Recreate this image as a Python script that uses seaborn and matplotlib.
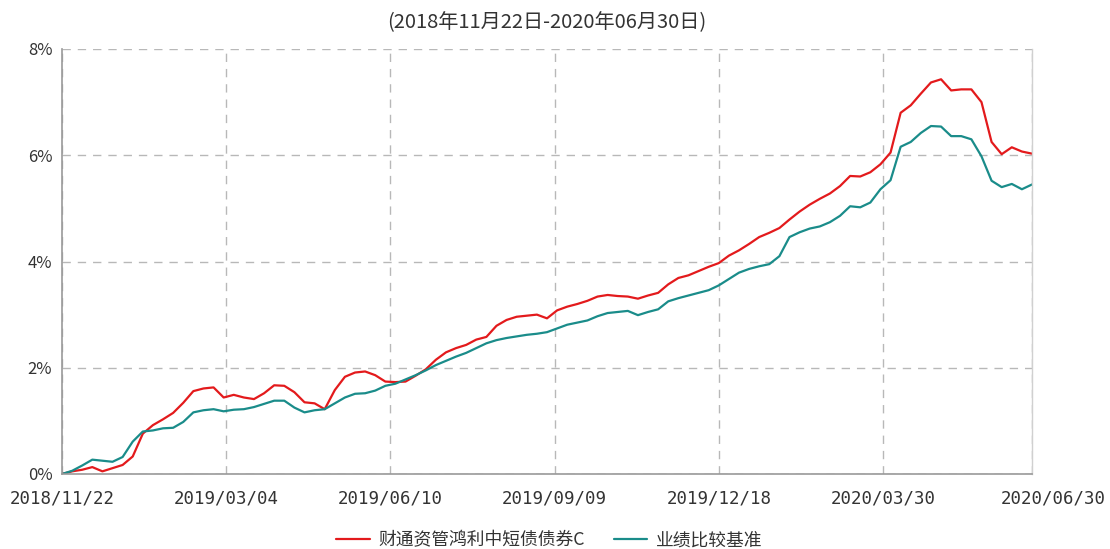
import pandas as pd
import seaborn as sns
import matplotlib.pyplot as plt
import matplotlib.transforms as mtransforms

# trading-day index of each sample (ticks are evenly spaced by trading days)
day_idx = list(range(0, 385, 4))

fund = [0.00, 0.05, 0.08, 0.13, 0.05, 0.11, 0.17, 0.33, 0.76, 0.92,
        1.03, 1.15, 1.34, 1.56, 1.61, 1.63, 1.44, 1.49, 1.44, 1.41,
        1.52, 1.67, 1.66, 1.54, 1.35, 1.33, 1.22, 1.58, 1.83, 1.91,
        1.93, 1.86, 1.74, 1.73, 1.74, 1.85, 1.97, 2.15, 2.29, 2.37,
        2.43, 2.53, 2.58, 2.79, 2.90, 2.96, 2.98, 3.00, 2.93, 3.08,
        3.15, 3.20, 3.26, 3.34, 3.37, 3.35, 3.34, 3.30, 3.36, 3.41,
        3.57, 3.69, 3.74, 3.82, 3.90, 3.97, 4.11, 4.21, 4.33, 4.46,
        4.54, 4.63, 4.79, 4.94, 5.07, 5.18, 5.28, 5.42, 5.61, 5.60,
        5.68, 5.83, 6.05, 6.80, 6.94, 7.16, 7.37, 7.43, 7.22, 7.24,
        7.24, 7.00, 6.25, 6.02, 6.15, 6.07, 6.03]

bench = [0.00, 0.06, 0.16, 0.27, 0.25, 0.23, 0.32, 0.61, 0.80, 0.82,
         0.86, 0.87, 0.98, 1.16, 1.20, 1.22, 1.18, 1.21, 1.22, 1.26,
         1.32, 1.38, 1.38, 1.25, 1.16, 1.20, 1.22, 1.33, 1.44, 1.51,
         1.52, 1.57, 1.66, 1.70, 1.78, 1.86, 1.95, 2.05, 2.13, 2.21,
         2.28, 2.37, 2.46, 2.52, 2.56, 2.59, 2.62, 2.64, 2.67, 2.74,
         2.81, 2.85, 2.89, 2.97, 3.03, 3.05, 3.07, 2.99, 3.05, 3.10,
         3.25, 3.31, 3.36, 3.41, 3.46, 3.55, 3.67, 3.79, 3.86, 3.91,
         3.95, 4.10, 4.46, 4.55, 4.62, 4.66, 4.74, 4.86, 5.04, 5.02,
         5.11, 5.36, 5.53, 6.16, 6.25, 6.42, 6.55, 6.54, 6.36, 6.36,
         6.30, 5.98, 5.52, 5.40, 5.46, 5.36, 5.45]

names = ['财通资管鸿利中短债债券C', '业绩比较基准']
tick_pos = [0, 65, 130, 195, 260, 325, 384]
tick_lbl = ['2018/11/22', '2019/03/04', '2019/06/10', '2019/09/09',
            '2019/12/18', '2020/03/30', '2020/06/30']
y_ticks = [0, 2, 4, 6, 8]

df = pd.concat([
    pd.DataFrame({'x': day_idx, 'v': fund, 's': names[0]}),
    pd.DataFrame({'x': day_idx, 'v': bench, 's': names[1]}),
])

sns.set_style('white')
plt.rcParams['font.family'] = ['Noto Sans CJK SC', 'DejaVu Sans']

fig = plt.figure(figsize=(11.1, 5.49), dpi=100)
ax = fig.add_axes([62 / 1110, 75 / 549, 970 / 1110, 425 / 549])

sns.lineplot(data=df, x='x', y='v', hue='s', hue_order=names,
             palette=['#e31a1c', '#1a8c8a'], linewidth=1.6, ax=ax,
             legend=True)

ax.set_xlim(0, 384)
ax.set_ylim(0, 8)
ax.set_xlabel('')
ax.set_ylabel('')

ax.set_xticks(tick_pos)
ax.set_xticklabels(tick_lbl, family='DejaVu Sans Mono', fontsize=12.5, color='#333333')
ax.set_yticks(y_ticks)
ax.set_yticklabels([f'{t}%' for t in y_ticks], fontsize=12, color='#333333')
ax.tick_params(axis='x', length=6, width=1, color='#888888', pad=5, direction='out')
ax.tick_params(axis='y', length=0, pad=7)

# last date label sits a bit right of its tick
lbl = ax.get_xticklabels()[-1]
lbl.set_transform(lbl.get_transform() + mtransforms.ScaledTranslation(0.21, 0, fig.dpi_scale_trans))

ax.grid(True, linestyle=(0, (6, 5)), color='#b8b8b8', linewidth=1)
ax.set_axisbelow(True)
for side in ['left', 'bottom']:
    ax.spines[side].set_color('#999999')
    ax.spines[side].set_linewidth(1.2)
ax.spines['right'].set_color('#d0d0d0')
ax.spines['right'].set_linewidth(1)
ax.spines['top'].set_visible(False)

handles, labels = ax.get_legend_handles_labels()
ax.legend_.remove()
fig.legend(handles, labels, loc='center', bbox_to_anchor=(0.495, 0.016),
           ncol=2, frameon=False, fontsize=12.8, handlelength=1.9,
           columnspacing=1.6, handletextpad=0.5, labelcolor='#333333')

fig.text(547 / 1110, 1 - 23 / 549, '(2018年11月22日-2020年06月30日)',
         ha='center', va='center', fontsize=14.5, color='#333333')

fig.savefig('out.png', dpi=100)
